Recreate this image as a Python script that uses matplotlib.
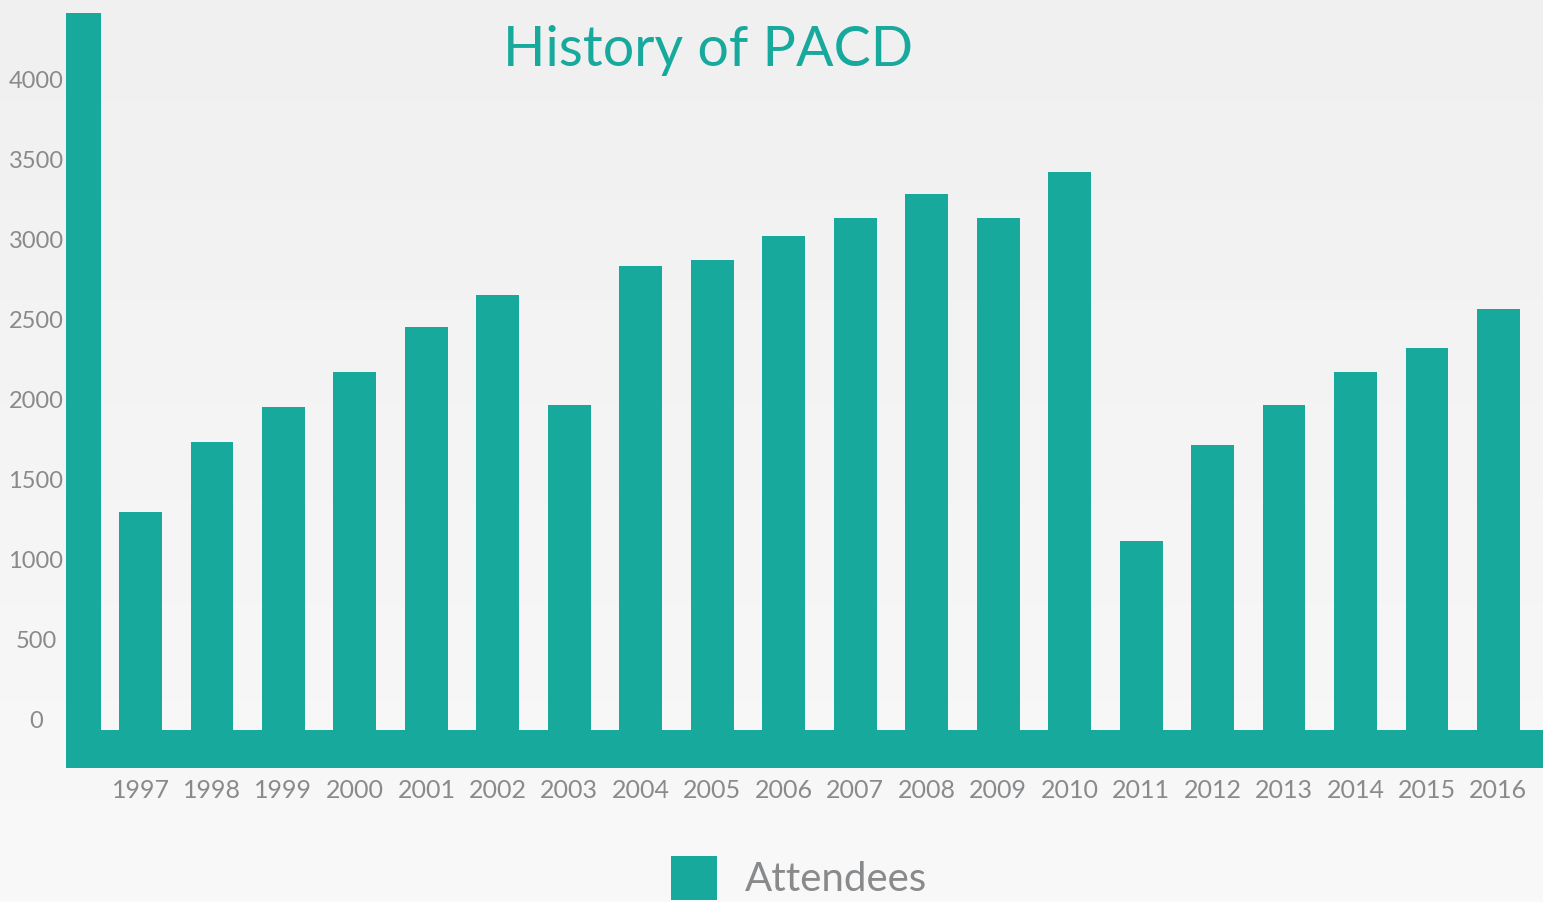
import numpy as np
import matplotlib
matplotlib.use("Agg")
import matplotlib.pyplot as plt
from matplotlib.transforms import ScaledTranslation

years = ["1997", "1998", "1999", "2000", "2001", "2002", "2003", "2004", "2005", "2006",
         "2007", "2008", "2009", "2010", "2011", "2012", "2013", "2014", "2015", "2016"]
attendees = [1362, 1800, 2019, 2237, 2519, 2719, 2031, 2900, 2937, 3087,
             3200, 3350, 3200, 3487, 1181, 1781, 2031, 2237, 2387, 2631]
yticks = [0, 500, 1000, 1500, 2000, 2500, 3000, 3500, 4000]

TEAL = "#18a99d"
GREY = "#888a8c"
plt.rcParams["font.family"] = ["Lato", "DejaVu Sans"]

W, H, DPI = 1543, 902, 100
fig = plt.figure(figsize=(W / DPI, H / DPI), dpi=DPI)
px = 72 / DPI  # points per pixel

# soft vertical background gradient
bg = fig.add_axes([0, 0, 1, 1], zorder=-10)
grad = np.linspace(0, 1, 256)[:, None]
top = np.array([240, 240, 240]) / 255
bot = np.array([249, 249, 250]) / 255
img = top[None, None, :] * (1 - grad[:, :, None]) + bot[None, None, :] * grad[:, :, None]
bg.imshow(img, aspect="auto", extent=[0, 1, 0, 1])
bg.set_axis_off()

left_px, top_px, base_px = 83.5, 13, 730
ax = fig.add_axes([left_px / W, (H - base_px) / H,
                   (W - left_px) / W, (base_px - top_px) / H])
ax.set_facecolor("none")

x = np.arange(len(years))
step = 71.47
scale = 0.16  # pixels per attendee
ytop = (base_px - top_px) / scale
bars = ax.bar(x, attendees, width=0.6, color=TEAL, label="Attendees", zorder=2)
ax.set_xlim(-(140.5 - left_px) / step, (W - 140.5) / step)
ax.set_ylim(0, ytop)

# thick teal axis lines
for s in ["top", "right"]:
    ax.spines[s].set_visible(False)
for s in ["left", "bottom"]:
    ax.spines[s].set_color(TEAL)
    ax.spines[s].set_capstyle("butt")
    ax.spines[s].set_antialiased(False)
    ax.spines[s].set_snap(False)
ax.spines["left"].set_linewidth(35 * px)
ax.spines["left"].set_bounds(-38 / scale, ytop)
ax.spines["bottom"].set_linewidth(38 * px)
ax.spines["bottom"].set_position(("outward", 19 * px))

ax.set_yticks(yticks)
ax.set_yticklabels([str(v) for v in yticks])
ax.set_xticks(x)
ax.set_xticklabels(years)
ax.tick_params(axis="y", length=0, width=0, pad=47.5 * px, labelsize=17, labelcolor=GREY)
ax.tick_params(axis="x", length=0, width=0, pad=30 * px, labelsize=18, labelcolor=GREY)
shift = ScaledTranslation(0, 10 / DPI, fig.dpi_scale_trans)
for lbl in ax.get_yticklabels():
    lbl.set_horizontalalignment("center")
    lbl.set_transform(lbl.get_transform() + shift)

fig.text(708 / W, 1 - 50 / H, "History of PACD", color=TEAL, fontsize=40,
         ha="center", va="center")

fig.legend(handles=[bars], labels=["Attendees"], loc="center",
           bbox_to_anchor=(799 / W, 1 - 878 / H), frameon=False, fontsize=29,
           labelcolor=GREY, handlelength=1.14, handleheight=1.34,
           handletextpad=0.7, borderpad=0, borderaxespad=0)

fig.savefig("out.png", dpi=DPI)
